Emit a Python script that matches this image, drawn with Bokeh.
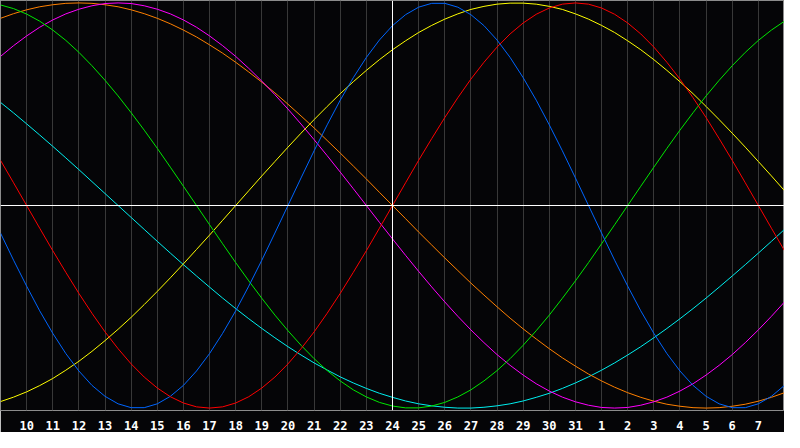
from bokeh.plotting import figure
from bokeh.models import Range1d, Span, FixedTicker
from bokeh.embed import file_html
from bokeh.resources import INLINE

# Day index (continues past month end: 32 = "1", 33 = "2", ...)
days = [9, 10, 11, 12, 13, 14, 15, 16, 17, 18, 19, 20, 21, 22, 23, 24, 25, 26, 27, 28,
        29, 30, 31, 32, 33, 34, 35, 36, 37, 38, 39]
half_days = [9.5, 10.5, 11.5, 12.5, 13.5, 14.5, 15.5, 16.5, 17.5, 18.5, 19.5, 20.5, 21.5,
             22.5, 23.5, 24.5, 25.5, 26.5, 27.5, 28.5, 29.5, 30.5, 31.5, 32.5, 33.5, 34.5,
             35.5, 36.5, 37.5, 38.5]
tick_days = [10, 11, 12, 13, 14, 15, 16, 17, 18, 19, 20, 21, 22, 23, 24, 25, 26, 27, 28,
             29, 30, 31, 32, 33, 34, 35, 36, 37, 38]
tick_labels = ["10", "11", "12", "13", "14", "15", "16", "17", "18", "19", "20", "21",
               "22", "23", "24", "25", "26", "27", "28", "29", "30", "31",
               "1", "2", "3", "4", "5", "6", "7"]
today = 24

# values read on whole days
red = [0.223, 0.0, -0.223, -0.434, -0.624, -0.782, -0.901, -0.975, -1.0, -0.975, -0.901,
       -0.782, -0.624, -0.434, -0.223, 0.0, 0.223, 0.434, 0.624, 0.782, 0.901, 0.975, 1.0,
       0.975, 0.901, 0.782, 0.624, 0.434, 0.223, 0.0, -0.223]
blue = [-0.136, -0.398, -0.631, -0.817, -0.942, -0.998, -0.979, -0.888, -0.731, -0.520,
        -0.270, 0.0, 0.270, 0.520, 0.731, 0.888, 0.979, 0.998, 0.942, 0.817, 0.631, 0.398,
        0.136, -0.136, -0.398, -0.631, -0.817, -0.942, -0.998, -0.979, -0.888]
green = [0.990, 0.945, 0.866, 0.756, 0.618, 0.458, 0.282, 0.095, -0.095, -0.282, -0.458,
         -0.618, -0.756, -0.866, -0.945, -0.990, -0.999, -0.972, -0.910, -0.815, -0.690,
         -0.541, -0.372, -0.189, 0.0, 0.189, 0.372, 0.541, 0.690, 0.815, 0.910]
yellow = [-0.968, -0.920, -0.854, -0.769, -0.667, -0.552, -0.424, -0.288, -0.146, 0.0,
          0.146, 0.288, 0.424, 0.552, 0.667, 0.769, 0.854, 0.920, 0.968, 0.994, 0.999,
          0.983, 0.946, 0.889, 0.813, 0.720, 0.611, 0.489, 0.357, 0.217, 0.073]
magenta = [0.736, 0.837, 0.916, 0.969, 0.997, 0.997, 0.969, 0.916, 0.837, 0.736, 0.614,
           0.476, 0.325, 0.165, 0.0, -0.165, -0.325, -0.476, -0.614, -0.736, -0.837,
           -0.916, -0.969, -0.997, -0.997, -0.969, -0.916, -0.837, -0.736, -0.614, -0.476]
orange = [0.924, 0.966, 0.991, 1.0, 0.991, 0.966, 0.924, 0.866, 0.793, 0.707, 0.609, 0.5,
          0.383, 0.259, 0.131, 0.0, -0.131, -0.259, -0.383, -0.5, -0.609, -0.707, -0.793,
          -0.866, -0.924, -0.966, -0.991, -1.0, -0.991, -0.966, -0.924]
cyan = [0.509, 0.403, 0.292, 0.177, 0.059, -0.059, -0.177, -0.292, -0.403, -0.509, -0.607,
        -0.697, -0.777, -0.846, -0.903, -0.947, -0.979, -0.996, -1.0, -0.989, -0.965,
        -0.927, -0.876, -0.813, -0.738, -0.653, -0.559, -0.457, -0.348, -0.235, -0.118]

# values read on half days
red_h = [0.112, -0.112, -0.330, -0.532, -0.707, -0.847, -0.944, -0.994, -0.994, -0.944,
         -0.847, -0.707, -0.532, -0.330, -0.112, 0.112, 0.330, 0.532, 0.707, 0.847, 0.944,
         0.994, 0.994, 0.944, 0.847, 0.707, 0.532, 0.330, 0.112, -0.112]
blue_h = [-0.270, -0.520, -0.731, -0.888, -0.979, -0.998, -0.942, -0.817, -0.631, -0.398,
          -0.136, 0.136, 0.398, 0.631, 0.817, 0.942, 0.998, 0.979, 0.888, 0.731, 0.520,
          0.270, 0.0, -0.270, -0.520, -0.731, -0.888, -0.979, -0.998, -0.942]
green_h = [0.972, 0.910, 0.815, 0.690, 0.541, 0.372, 0.189, 0.0, -0.189, -0.372, -0.541,
           -0.690, -0.815, -0.910, -0.972, -0.999, -0.990, -0.945, -0.866, -0.756, -0.618,
           -0.458, -0.282, -0.095, 0.095, 0.282, 0.458, 0.618, 0.756, 0.866]
yellow_h = [-0.946, -0.889, -0.813, -0.720, -0.611, -0.489, -0.357, -0.217, -0.073, 0.073,
            0.217, 0.357, 0.489, 0.611, 0.720, 0.813, 0.889, 0.946, 0.983, 0.999, 0.994,
            0.968, 0.920, 0.854, 0.769, 0.667, 0.552, 0.424, 0.288, 0.146]
magenta_h = [0.789, 0.880, 0.946, 0.986, 1.0, 0.986, 0.946, 0.880, 0.789, 0.677, 0.547,
             0.402, 0.246, 0.083, -0.083, -0.246, -0.402, -0.547, -0.677, -0.789, -0.880,
             -0.946, -0.986, -1.0, -0.986, -0.946, -0.880, -0.789, -0.677, -0.547]
orange_h = [0.947, 0.981, 0.998, 0.998, 0.981, 0.947, 0.897, 0.832, 0.752, 0.659, 0.556,
            0.442, 0.321, 0.195, 0.065, -0.065, -0.195, -0.321, -0.442, -0.556, -0.659,
            -0.752, -0.832, -0.897, -0.947, -0.981, -0.998, -0.998, -0.981, -0.947]
cyan_h = [0.457, 0.348, 0.235, 0.118, 0.0, -0.118, -0.235, -0.348, -0.457, -0.559, -0.653,
          -0.738, -0.812, -0.876, -0.927, -0.965, -0.989, -1.0, -0.996, -0.979, -0.947,
          -0.903, -0.846, -0.777, -0.697, -0.607, -0.509, -0.403, -0.292, -0.177]

series = [
    (cyan, cyan_h, "#00f0f0"),
    (orange, orange_h, "#ff8000"),
    (magenta, magenta_h, "#ff00ff"),
    (yellow, yellow_h, "#ffff00"),
    (green, green_h, "#00e800"),
    (blue, blue_h, "#0066ff"),
    (red, red_h, "#ff0000"),
]


def merge(whole, half):
    out = []
    for i, v in enumerate(whole):
        out.append(v)
        if i < len(half):
            out.append(half[i])
    return out


xs = merge(days, half_days)

BG = "#050507"
p = figure(width=784, height=432, x_range=Range1d(days[0], days[-1]),
           y_range=Range1d(-1.012, 1.012), output_backend="svg", toolbar_location=None,
           y_axis_location=None, min_border_left=0, min_border_right=0, min_border_top=0,
           min_border_bottom=20, background_fill_color=BG, border_fill_color=BG,
           outline_line_color="#8c8c8c", outline_line_width=1)

p.xgrid.ticker = FixedTicker(ticks=days)
p.xgrid.grid_line_color = "#383838"
p.xgrid.grid_line_width = 1
p.ygrid.grid_line_color = None

ax = p.xaxis[0]
ax.ticker = FixedTicker(ticks=tick_days)
ax.major_label_overrides = {d: s for d, s in zip(tick_days, tick_labels)}
ax.axis_line_color = None
ax.major_tick_line_color = None
ax.minor_tick_line_color = None
ax.major_label_standoff = 4
ax.major_label_text_color = "white"
ax.major_label_text_font = "DejaVu Sans Mono"
ax.major_label_text_font_style = "bold"
ax.major_label_text_font_size = "12px"

p.add_layout(Span(location=today, dimension="height", line_color="white", line_width=1))
p.add_layout(Span(location=0, dimension="width", line_color="white", line_width=1))

for whole, half, col in series:
    p.line(xs, merge(whole, half), line_color=col, line_width=1, line_join="round")

open("out.html", "w").write(file_html(p, INLINE))
